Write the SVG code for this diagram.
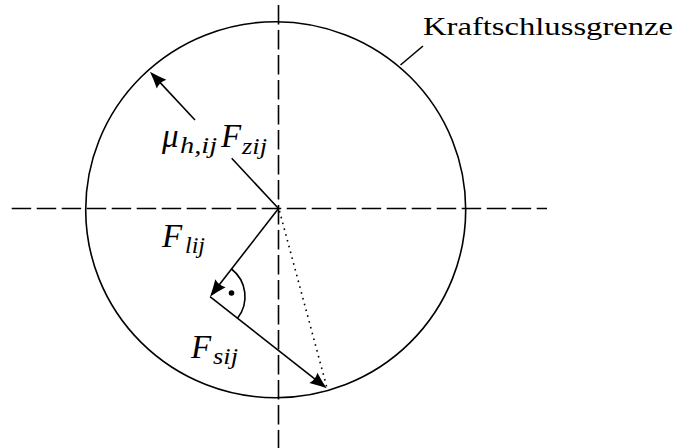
<svg xmlns="http://www.w3.org/2000/svg" width="678" height="448" viewBox="0 0 678 448">
<style>
.ln{stroke:#000;stroke-width:1.6;fill:none}
.dash{stroke:#000;stroke-width:1.6;fill:none;stroke-dasharray:19.5 5.5}
.dot{stroke:#000;stroke-width:1.6;fill:none;stroke-dasharray:1.6 4.4}
.rm{font-family:"Liberation Serif","Times New Roman",serif;font-size:25px;fill:#000}
.mi{font-family:"Liberation Serif","Times New Roman",serif;font-style:italic;font-size:33px;fill:#000}
.sb{font-size:23px}
</style>
<defs>
<marker id="ah" viewBox="-20 -10 22 20" markerWidth="22" markerHeight="20" refX="-4" refY="0" markerUnits="userSpaceOnUse" orient="auto">
<path d="M0,0 Q-8,-2.5 -17,-6.5 Q-14,0 -17,6.5 Q-8,2.5 0,0 Z" fill="#000"/>
</marker>
</defs>
<g id="axes">
<line class="dash" x1="11.7" y1="208.5" x2="547" y2="208.5"/>
<line class="dash" x1="278.5" y1="5" x2="278.5" y2="448"/>
</g>
<g id="grenze">
<ellipse class="ln" cx="275.7" cy="209.7" rx="190" ry="188"/>
<line class="ln" x1="400.5" y1="65" x2="423" y2="46"/>
<text class="rm" x="423" y="35" textLength="250" lengthAdjust="spacingAndGlyphs">Kraftschlussgrenze</text>
</g>
<g id="connectors">
<line class="ln" x1="278.5" y1="208.5" x2="231.7" y2="158.3"/>
<line class="ln" x1="195" y1="120" x2="152.7" y2="74.6" marker-end="url(#ah)"/>
<line class="ln" x1="278.5" y1="208.5" x2="212.5" y2="293.5" marker-end="url(#ah)"/>
<line class="ln" x1="210" y1="296.7" x2="323.6" y2="385.8" marker-end="url(#ah)"/>
<line class="dot" x1="279.5" y1="211" x2="327" y2="388"/>
<path class="ln" d="M231.5,269 A35,35 0 0 1 237.5,318.3"/>
<circle cx="231.5" cy="293" r="2.8" fill="#000"/>
</g>
<g id="label-mu">
<text class="mi" x="162" y="147">μ<tspan class="sb" x="180" y="153" textLength="37" lengthAdjust="spacingAndGlyphs">h,ij</tspan><tspan x="221" y="147">F</tspan><tspan class="sb" x="242" y="154" textLength="25" lengthAdjust="spacingAndGlyphs">zij</tspan></text>
</g>
<g id="label-fl">
<text class="mi" x="162" y="247">F<tspan class="sb" x="185" y="253" textLength="20" lengthAdjust="spacingAndGlyphs">lij</tspan></text>
</g>
<g id="label-fs">
<text class="mi" x="191" y="358">F<tspan class="sb" x="213" y="364" textLength="25" lengthAdjust="spacingAndGlyphs">sij</tspan></text>
</g>
</svg>
